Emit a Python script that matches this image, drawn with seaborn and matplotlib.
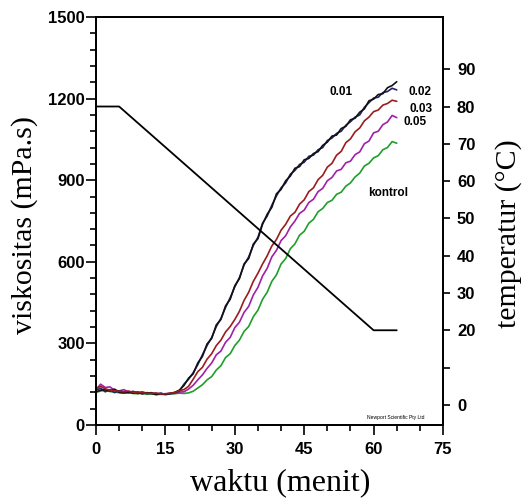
import matplotlib
matplotlib.use("Agg")
import matplotlib.pyplot as plt
from matplotlib.ticker import MultipleLocator, FixedLocator
import seaborn as sns
import pandas as pd

# ---------------- data ----------------
time_min = list(range(0, 66))

baseline_001 = [128, 135, 122, 130, 119, 126, 121, 118, 124, 116, 120, 115, 118, 113, 117, 112, 115, 118, 124]
rise_001 = [150, 168, 192, 222, 258, 292, 322, 362, 392, 432,
            468, 508, 542, 588, 618, 660, 690, 742, 768, 808,
            842, 872, 890, 922, 936, 958, 966, 988, 992, 1012,
            1020, 1046, 1055, 1072, 1080, 1102, 1115, 1132, 1140, 1168,
            1185, 1202, 1205, 1222, 1226, 1238, 1232]
visc_001 = baseline_001 + rise_001

baseline_002 = [122, 128, 130, 125, 132, 120, 118, 122, 117, 121, 114, 119, 116, 112, 115, 114, 116, 120, 128]
rise_002 = [145, 172, 188, 228, 252, 298, 318, 368, 388, 438,
            462, 512, 538, 592, 612, 665, 685, 738, 775, 800,
            850, 866, 898, 915, 944, 950, 975, 980, 998, 1005,
            1028, 1040, 1062, 1066, 1090, 1098, 1122, 1128, 1150, 1162,
            1192, 1198, 1215, 1218, 1240, 1248, 1262]
visc_002 = baseline_002 + rise_002

baseline_003 = [135, 142, 133, 128, 126, 124, 122, 125, 120, 121, 118, 117, 116, 118, 114, 115, 117, 119, 126]
rise_003 = [130, 142, 168, 196, 212, 242, 262, 292, 312, 342,
            362, 388, 418, 458, 488, 528, 558, 592, 622, 658,
            682, 716, 738, 768, 782, 812, 828, 858, 872, 902,
            918, 948, 962, 992, 1006, 1038, 1052, 1078, 1092, 1118,
            1132, 1152, 1158, 1176, 1182, 1194, 1190]
visc_003 = baseline_003 + rise_003

baseline_005 = [130, 150, 138, 140, 128, 125, 130, 122, 121, 119, 122, 117, 119, 114, 116, 113, 116, 117, 121]
rise_005 = [122, 132, 146, 166, 184, 208, 228, 258, 272, 304,
            322, 358, 378, 414, 436, 478, 506, 548, 576, 618,
            642, 678, 696, 728, 750, 778, 790, 818, 830, 858,
            870, 898, 910, 934, 940, 964, 970, 994, 1004, 1034,
            1044, 1074, 1080, 1104, 1114, 1138, 1130]
visc_005 = baseline_005 + rise_005

baseline_ctrl = [120, 125, 128, 123, 121, 119, 117, 119, 116, 115, 117, 113, 114, 112, 113, 112, 114, 115, 117]
rise_ctrl = [116, 118, 124, 136, 148, 166, 178, 202, 218, 248,
             262, 292, 312, 344, 362, 398, 422, 462, 488, 528,
             552, 592, 612, 648, 666, 698, 712, 742, 756, 784,
             796, 818, 826, 848, 856, 878, 890, 912, 926, 952,
             962, 982, 990, 1012, 1020, 1042, 1036]
visc_ctrl = baseline_ctrl + rise_ctrl

series_names = ["kontrol", "0.05", "0.01", "0.02", "0.03"]
series_values = [visc_ctrl, visc_005, visc_001, visc_002, visc_003]
series_colors = ["#1f9e2a", "#a020a8", "#23236e", "#111111", "#9a1c1c"]

temp_time = [0, 5, 60, 65]
temp_values = [80, 80, 20, 20]

x_ticks = [0, 15, 30, 45, 60, 75]
y_ticks = [0, 300, 600, 900, 1200, 1500]
t_ticks = [0, 10, 20, 30, 40, 50, 60, 70, 80, 90]
t_tick_labels = ["0", "", "20", "30", "40", "50", "60", "70", "80", "90"]

label_pos = {"0.01": (53, 1224), "0.02": (70, 1224), "0.03": (70.2, 1160),
             "0.05": (69, 1114), "kontrol": (63.1, 853)}

# ---------------- frame ----------------
rows = []
for name, vals in zip(series_names, series_values):
    for t, v in zip(time_min, vals):
        rows.append({"waktu": t, "viskositas": v, "sampel": name})
df = pd.DataFrame(rows)
df_temp = pd.DataFrame({"waktu": temp_time, "temperatur": temp_values})

# ---------------- plot ----------------
sns.set_style("ticks")
plt.rcParams["font.family"] = ["Liberation Sans", "DejaVu Sans"]
plt.rcParams["text.color"] = "black"
plt.rcParams["axes.labelcolor"] = "black"
plt.rcParams["xtick.color"] = "black"
plt.rcParams["ytick.color"] = "black"

fig = plt.figure(figsize=(5.25, 4.99), dpi=100)
ax = fig.add_axes([96 / 525, 1 - 425 / 499, 347 / 525, 408 / 499])

sns.lineplot(data=df, x="waktu", y="viskositas", hue="sampel",
             hue_order=series_names, palette=dict(zip(series_names, series_colors)),
             estimator=None, linewidth=1.2, legend=False, ax=ax)

ax.set_xlim(0, 75)
ax.set_ylim(0, 1500)
ax.xaxis.set_major_locator(FixedLocator(x_ticks))
ax.xaxis.set_minor_locator(MultipleLocator(5))
ax.yaxis.set_major_locator(FixedLocator(y_ticks))
ax.yaxis.set_minor_locator(MultipleLocator(60))
ax.tick_params(axis="both", which="major", direction="out", length=7, width=1.2,
               labelsize=12, color="black", labelcolor="black")
ax.tick_params(axis="both", which="minor", direction="out", length=4, width=1.2, color="black")
ax.tick_params(axis="y", which="major", pad=1)
ax.tick_params(axis="x", which="major", pad=5)
for lab in ax.get_xticklabels() + ax.get_yticklabels():
    lab.set_fontweight("bold")

for s in ax.spines.values():
    s.set_linewidth(1.3)
    s.set_color("black")

ax.set_xlabel("waktu (menit)", fontsize=23, family="Liberation Serif", ha="center", va="center",
              color="black")
ax.xaxis.set_label_coords(0.53, -0.142)
ax.set_ylabel("viskositas (mPa.s)", fontsize=21.5, family="Liberation Serif", ha="center", va="center",
              color="black")
ax.yaxis.set_label_coords(-0.205, 0.49)

for name, (tx, ty) in label_pos.items():
    ax.text(tx, ty, name, fontsize=8.5, fontweight="bold", ha="center", va="center", color="black")
ax.text(64.8, 26, "Newport Scientific Pty Ltd", fontsize=3.6, ha="center", va="center", color="black")

ax2 = ax.twinx()
sns.lineplot(data=df_temp, x="waktu", y="temperatur", color="black", linewidth=1.3, ax=ax2)
ax2.set_ylim(-5.4, 104)
ax2.yaxis.set_major_locator(FixedLocator(t_ticks))
ax2.set_yticklabels(t_tick_labels)
ax2.tick_params(axis="y", which="major", direction="out", length=5, width=1.2,
                labelsize=12, pad=5, color="black", labelcolor="black")
for lab in ax2.get_yticklabels():
    lab.set_fontweight("bold")
for s in ax2.spines.values():
    s.set_linewidth(1.3)
    s.set_color("black")
ax2.set_xlabel("")
ax2.set_ylabel("temperatur (°C)", fontsize=21.5, family="Liberation Serif",
               ha="center", va="center", rotation=90, color="black")
ax2.yaxis.set_label_coords(1.19, 0.47)

fig.savefig("out.png", dpi=100)
